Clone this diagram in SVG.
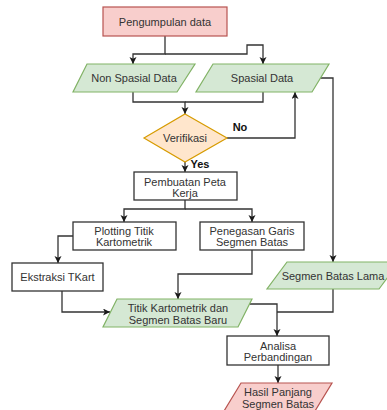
<svg xmlns="http://www.w3.org/2000/svg" width="387" height="410" viewBox="0 0 387 410">
<defs>
<marker id="arr" markerWidth="8" markerHeight="8" refX="7" refY="3.5" orient="auto" markerUnits="userSpaceOnUse">
<path d="M0,0 L7,3.5 L0,7 L1.8,3.5 z" fill="#1a1a1a"/>
</marker>
<style>
text{font-family:"Liberation Sans",Arial,sans-serif;font-size:11px;fill:#333;text-anchor:middle}
.red{fill:#f8cecc;stroke:#b85450;stroke-width:1.2}
.green{fill:#d5e8d4;stroke:#82b366;stroke-width:1.2}
.orange{fill:#ffe6cc;stroke:#d79b00;stroke-width:1.2}
.proc{fill:#fff;stroke:#333;stroke-width:1.3}
.edge{fill:none;stroke:#333;stroke-width:1.3}
.arrow{marker-end:url(#arr)}
.lbl{font-weight:bold;fill:#111}
</style>
</defs>
<rect width="387" height="410" fill="#fff"/>
<g id="connectors">
<path class="edge arrow" d="M165,36 V54 H133 V64"/>
<path class="edge arrow" d="M165,54 H247 V45 H263 V64"/>
<path class="edge arrow" d="M133,92 V102 H185 V114"/>
<path class="edge" d="M263,92 V102 H185"/>
<path class="edge arrow" d="M227,138 H295 V92"/>
<path class="edge arrow" d="M320,78 H333 V262"/>
<path class="edge arrow" d="M185,162 V172"/>
<path class="edge arrow" d="M185,200 V209 H124 V222"/>
<path class="edge arrow" d="M185,209 H252 V222"/>
<path class="edge arrow" d="M73,236 H58 V263"/>
<path class="edge arrow" d="M62,291 V312 H110"/>
<path class="edge arrow" d="M252,250 V274 H178 V299"/>
<path class="edge arrow" d="M249.5,304 H277 V336"/>
<path class="edge" d="M333,289 V312 H277"/>
<path class="edge arrow" d="M278,365 V383"/>
<text class="lbl" x="240" y="131">No</text>
<text class="lbl" x="200" y="168">Yes</text>
</g>
<g id="pengumpulan">
<rect class="red" x="103" y="7" width="124" height="29"/>
<text x="165" y="25.5">Pengumpulan data</text>
</g>
<g id="nonspasial">
<polygon class="green" points="87,64 195,64 177,92 73,92"/>
<text x="134" y="82">Non Spasial Data</text>
</g>
<g id="spasial">
<polygon class="green" points="213,64 329,64 312,92 196,92"/>
<text x="262" y="82">Spasial Data</text>
</g>
<g id="verifikasi">
<polygon class="orange" points="185,114 227,138 185,162 144,138"/>
<text x="185" y="142">Verifikasi</text>
</g>
<g id="pembuatan">
<rect class="proc" x="134" y="172" width="103" height="28"/>
<text x="185" y="186">Pembuatan Peta</text>
<text x="185" y="197">Kerja</text>
</g>
<g id="plotting">
<rect class="proc" x="73" y="222" width="103" height="28"/>
<text x="124" y="235">Plotting Titik</text>
<text x="124" y="246">Kartometrik</text>
</g>
<g id="penegasan">
<rect class="proc" x="200" y="222" width="104" height="28"/>
<text x="252" y="235">Penegasan Garis</text>
<text x="252" y="246">Segmen Batas</text>
</g>
<g id="ekstraksi">
<rect class="proc" x="12" y="263" width="91" height="28"/>
<text x="57.5" y="281">Ekstraksi TKart</text>
</g>
<g id="segmenlama">
<polygon class="green" points="287,262 399,262 379,289 267,289"/>
<text x="333" y="279.5">Segmen Batas Lama</text>
</g>
<g id="titik">
<polygon class="green" points="117,299 252,299 238,327 103,327"/>
<text x="178" y="312">Titik Kartometrik dan</text>
<text x="178" y="323.5">Segmen Batas Baru</text>
</g>
<g id="analisa">
<rect class="proc" x="227" y="336" width="102" height="29"/>
<text x="278" y="350">Analisa</text>
<text x="278" y="361">Perbandingan</text>
</g>
<g id="hasil">
<polygon class="red" points="241,383 332,383 315,411 224,411"/>
<text x="278" y="395.5">Hasil Panjang</text>
<text x="278" y="407.5">Segmen Batas</text>
</g>
</svg>
